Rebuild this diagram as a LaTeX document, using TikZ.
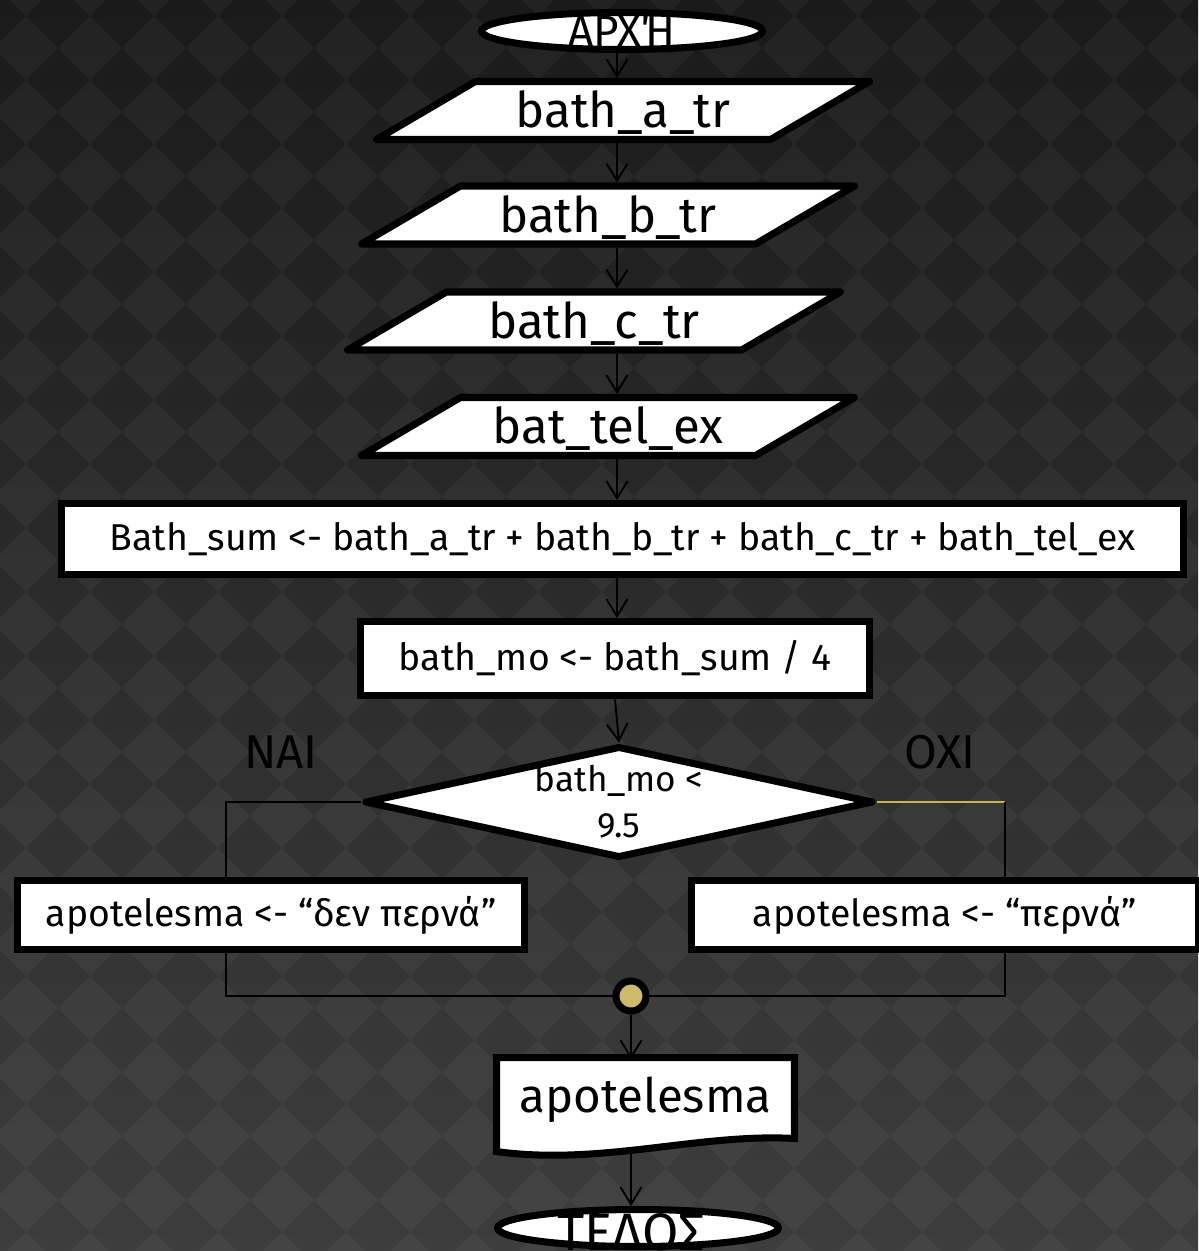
\documentclass[tikz,border=0pt]{standalone}
\usepackage{fontspec}
\setmainfont{Fira Sans}
\usetikzlibrary{arrows.meta,positioning,calc,shapes.geometric}
\definecolor{BgTop}{HTML}{1A1A1A}
\definecolor{BgBottom}{HTML}{3D3D3D}
\definecolor{DotGold}{HTML}{CDBA6C}
\definecolor{LineGold}{HTML}{C8B25E}

\begin{document}
\begin{tikzpicture}[x=0.02cm,y=-0.02cm,
    every node/.style={font=\fontsize{21.3}{26}\selectfont,text=black},
    term/.style={ellipse,draw=black,fill=white,line width=4pt,minimum width=5.62cm,minimum height=0.74cm,inner sep=0pt},
    termtext/.style={font=\fontsize{25}{28}\selectfont,inner sep=0pt},
    io/.style={trapezium,trapezium left angle=30.4,trapezium right angle=149.6,trapezium stretches body,draw=black,fill=white,line width=4pt,line join=round,minimum width=9.86cm,inner sep=0pt,text height=0.92cm,text depth=0.24cm,font=\fontsize{28}{30}\selectfont},
    proc/.style={rectangle,draw=black,fill=white,line width=4pt,inner sep=0pt},
    cond/.style={diamond,shape aspect=4.5,draw=black,fill=white,line width=4pt,line join=round,minimum width=10.18cm,minimum height=2.24cm,inner sep=0pt,align=center,font=\fontsize{20}{26}\selectfont},
    answer/.style={font=\fontsize{27}{30}\selectfont},
    link/.style={draw=black,line width=1.1pt},
    arr/.style={link,-{Straight Barb[length=0.34cm,width=0.42cm]}}
  ]
  % background
  \useasboundingbox (0,0) rectangle (1198,1251);
  \fill[top color=BgTop,bottom color=BgBottom] (0,0) rectangle (1198,1251);
  \foreach \i in {-1,...,18}
    \foreach \j in {-1,...,19}
      \fill[white,opacity=0.04] (26+64*\i,48+64*\j) +(-32,0) -- +(0,-32) -- +(32,0) -- +(0,32) -- cycle;

  \coordinate (spine) at (617,0);
  \node[term] (start) at (622,31) {};
  \node[termtext] (starttext) at (start) {ΑΡΧΉ};
  \node[io] (ina) at (623,110.5) {bath\_a\_tr};
  \node[io] (inb) at (608,215) {bath\_b\_tr};
  \node[io] (inc) at (594,321) {bath\_c\_tr};
  \node[io] (ind) at (608,426.5) {bat\_tel\_ex};
  \node[proc,minimum width=22.44cm,minimum height=1.42cm] (sum) at (622.5,539) {Bath\_sum <- bath\_a\_tr + bath\_b\_tr + bath\_c\_tr + bath\_tel\_ex};
  \node[proc,minimum width=10.18cm,minimum height=1.48cm] (mo) at (615,658.5) {bath\_mo <- bath\_sum / 4};
  \node[cond] (test) at (619,802) {bath\_mo <\\9.5};
  \node[answer] (yeslbl) at (281,752) {ΝΑΙ};
  \node[answer] (nolbl) at (940,752) {ΟΧΙ};
  \node[proc,minimum width=10.14cm,minimum height=1.38cm] (yes) at (271,915) {apotelesma <- “δεν περνά”};
  \node[proc,minimum width=10.14cm,minimum height=1.38cm] (no) at (945,915) {apotelesma <- “περνά”};
  \coordinate (joinl) at (226,996);
  \coordinate (joinr) at (1005,996);

  % branches
  \draw[link] (test.west) -| (yes.north -| joinl);
  \draw[link] (yes.south -| joinl) -- (joinl) -- (joinr) -- (no.south -| joinr);
  \draw[LineGold,line width=1.3pt] (test.east) -- (test.east -| joinr);
  \draw[link] (test.east -| joinr) -- (no.north -| joinr);
  \node[circle,draw=black,fill=DotGold,line width=4pt,minimum size=0.6cm,inner sep=0pt] (merge) at (631,996) {};

  % output
  \fill[white,draw=black,line width=4pt] (496.5,1057.5) -- (794.5,1057.5) -- (794.5,1138.5)
    .. controls (700,1133) and (600,1166) .. (496.5,1151.5) -- cycle;
  \node[minimum width=5.96cm,minimum height=1.62cm,inner sep=0pt,font=\fontsize{27}{30}\selectfont] (out) at (645.5,1100) {apotelesma};

  \node[term] (stop) at (638,1228) {};
  \node[termtext,font=\fontsize{30}{32}\selectfont] (stoptext) at (631,1232) {ΤΕΛΟΣ};

  \draw[arr] (start.south -| spine) -- (ina.north -| spine);
  \draw[arr] (ina.south -| spine) -- (inb.north -| spine);
  \draw[arr] (inb.south -| spine) -- (inc.north -| spine);
  \draw[arr] (inc.south -| spine) -- (ind.north -| spine);
  \draw[arr] (ind.south -| spine) -- (sum.north -| spine);
  \draw[arr] (sum.south -| spine) -- (mo.north -| spine);
  \draw[arr] (mo.south) -- (test.north);
  \draw[arr] (merge.south) -- (out.north -| merge);
  \draw[arr] ($(out.south -| merge)+(0,13)$) -- (stop.north -| merge);
\end{tikzpicture}
\end{document}
